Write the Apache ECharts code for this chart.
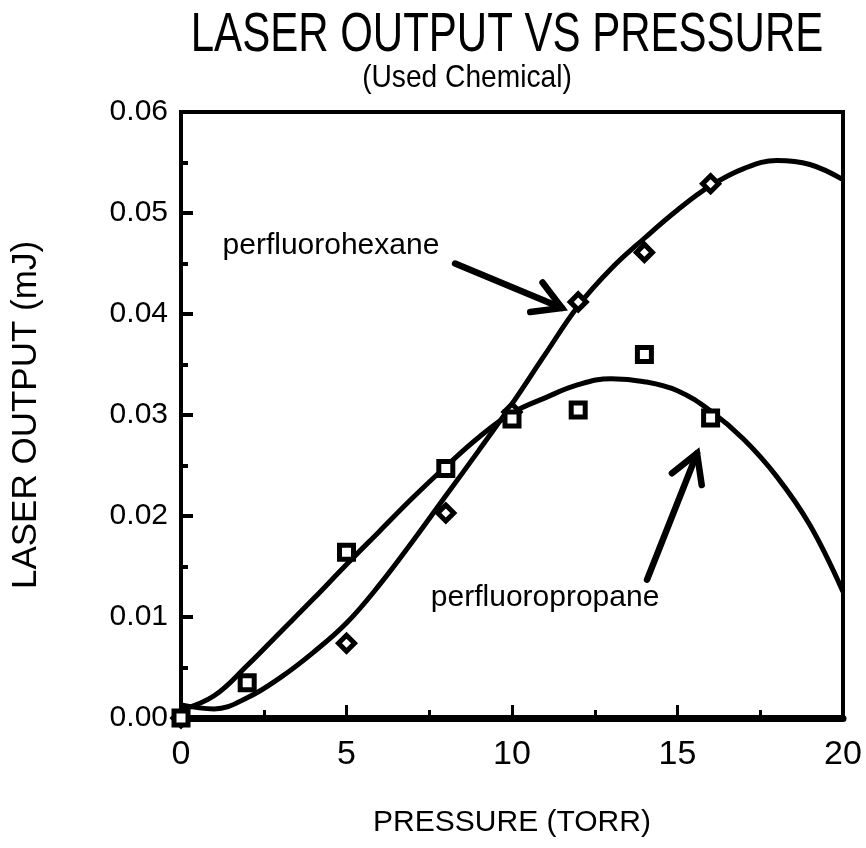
<!DOCTYPE html>
<html lang="en">
<head>
    <meta charset="UTF-8">
    <title>Laser output vs pressure</title>
    <script src="https://cdn.jsdelivr.net/npm/echarts@6/dist/echarts.min.js"></script>
    <style>
        html, body { margin: 0; padding: 0; background: #fff; }
        #main { width: 866px; height: 848px; }
    </style>
</head>
<body>
<div id="main"></div>
<script>
    // measured points
    const hexaneX = [0, 5, 8, 10, 12, 14, 16];
    const hexaneY = [0.0000, 0.0074, 0.0203, 0.0303, 0.0412, 0.0461, 0.0529];
    const propaneX = [0, 2, 5, 8, 10, 12, 14, 16];
    const propaneY = [0.0000, 0.0035, 0.0164, 0.0247, 0.0296, 0.0305, 0.0360, 0.0297];

    // fitted curves
    const fitX = [0, 1, 2, 3, 4, 5, 6, 7, 8, 9, 10, 11, 12, 13, 14, 15, 16, 17, 18, 19, 20];
    const hexaneFit = [0.0013, 0.0009, 0.0020, 0.0040, 0.0065, 0.0094, 0.0132, 0.0175, 0.0220, 0.0265, 0.0311,
        0.0360, 0.0408, 0.0445, 0.0475, 0.0503, 0.0527, 0.0544, 0.0552, 0.0548, 0.0533];
    const propaneFit = [0.0008, 0.0022, 0.0052, 0.0085, 0.0118, 0.0152, 0.0185, 0.0218, 0.0249, 0.0278, 0.0302,
        0.0317, 0.0330, 0.0336, 0.0333, 0.0324, 0.0304, 0.0276, 0.0239, 0.0191, 0.0125];

    // annotations (data units)
    const labelNames = ['perfluorohexane', 'perfluoropropane'];
    const labelAt = [[4.53, 0.0468], [11.0, 0.0119]];
    const arrowFrom = [[8.28, 0.0450], [14.08, 0.0137]];
    const arrowTo = [[11.51, 0.0406], [15.59, 0.0262]];

    const sans = '"Liberation Sans", Arial, sans-serif';

    const zip = (xs, ys) => xs.map((x, i) => [x, ys[i]]);

    function renderArrow(params, api) {
        const t = api.coord([api.value(0), api.value(1)]);
        const h = api.coord([api.value(2), api.value(3)]);
        const ang = Math.atan2(t[1] - h[1], t[0] - h[0]);
        const len = 32, a = Math.PI / 6;
        const b1 = [h[0] + len * Math.cos(ang + a), h[1] + len * Math.sin(ang + a)];
        const b2 = [h[0] + len * Math.cos(ang - a), h[1] + len * Math.sin(ang - a)];
        return {
            type: 'group',
            children: [
                {type: 'line', shape: {x1: t[0], y1: t[1], x2: h[0], y2: h[1]},
                    style: {stroke: '#000', lineWidth: 6.5, lineCap: 'round'}},
                {type: 'polyline', shape: {points: [b1, h, b2]},
                    style: {stroke: '#000', lineWidth: 6.5, fill: null, lineCap: 'round'}}
            ]
        };
    }

    function renderLabel(params, api) {
        const p = api.coord([api.value(0), api.value(1)]);
        return {
            type: 'text', x: p[0], y: p[1],
            style: {
                text: labelNames[params.dataIndex], fill: '#000',
                font: '30px ' + sans,
                align: 'center', verticalAlign: 'middle',
                textAlign: 'center', textVerticalAlign: 'middle'
            }
        };
    }

    const chart = echarts.init(document.getElementById('main'));
    chart.setOption({
        backgroundColor: '#fff',
        animation: false,
        // titles squeezed sideways to look like the narrow face of the original
        graphic: [
            {type: 'text', x: 507, y: 36, scaleX: 0.75,
                style: {text: 'LASER OUTPUT VS PRESSURE', font: '56px ' + sans, fill: '#000',
                    textAlign: 'center', textVerticalAlign: 'middle', align: 'center', verticalAlign: 'middle'}},
            {type: 'text', x: 467, y: 78, scaleX: 0.88,
                style: {text: '(Used Chemical)', font: '32px ' + sans, fill: '#000',
                    textAlign: 'center', textVerticalAlign: 'middle', align: 'center', verticalAlign: 'middle'}}
        ],
        grid: {left: 181, right: 23, top: 112, bottom: 130, show: true, borderColor: '#000', borderWidth: 4},
        xAxis: {
            type: 'value', min: 0, max: 20, interval: 5,
            name: 'PRESSURE (TORR)', nameLocation: 'middle', nameGap: 90,
            nameTextStyle: {fontFamily: sans, fontSize: 30, color: '#000'},
            axisLine: {lineStyle: {color: '#000', width: 7}},
            axisTick: {inside: true, length: 13, lineStyle: {color: '#000', width: 3}},
            minorTick: {show: true, splitNumber: 2, length: 8, lineStyle: {color: '#000', width: 3}},
            splitLine: {show: false},
            axisLabel: {fontFamily: sans, fontSize: 34, color: '#000', margin: 20}
        },
        yAxis: {
            type: 'value', min: 0, max: 0.06, interval: 0.01,
            name: 'LASER OUTPUT (mJ)', nameLocation: 'middle', nameGap: 137, nameRotate: 90,
            nameTextStyle: {fontFamily: sans, fontSize: 35, color: '#000'},
            axisLine: {lineStyle: {color: '#000', width: 4}},
            axisTick: {inside: true, length: 12, lineStyle: {color: '#000', width: 4}},
            minorTick: {show: true, splitNumber: 2, length: 7, lineStyle: {color: '#000', width: 4}},
            splitLine: {show: false},
            axisLabel: {fontFamily: sans, fontSize: 30, color: '#000', margin: 13,
                formatter: v => v.toFixed(2)}
        },
        series: [
            {type: 'line', data: zip(fitX, hexaneFit), smooth: 0.4, showSymbol: false,
                lineStyle: {color: '#000', width: 5}},
            {type: 'line', data: zip(fitX, propaneFit), smooth: 0.4, showSymbol: false,
                lineStyle: {color: '#000', width: 5}},
            {type: 'scatter', data: zip(hexaneX, hexaneY), symbol: 'diamond', symbolSize: 16,
                itemStyle: {color: '#fff', borderColor: '#000', borderWidth: 5, opacity: 1}, z: 5},
            {type: 'scatter', data: zip(propaneX, propaneY), symbol: 'rect', symbolSize: 14,
                itemStyle: {color: '#fff', borderColor: '#000', borderWidth: 5, opacity: 1}, z: 5},
            {type: 'custom', renderItem: renderArrow, z: 6,
                data: arrowFrom.map((f, i) => [f[0], f[1], arrowTo[i][0], arrowTo[i][1]])},
            {type: 'custom', renderItem: renderLabel, z: 6, data: labelAt}
        ]
    });
</script>
</body>
</html>
